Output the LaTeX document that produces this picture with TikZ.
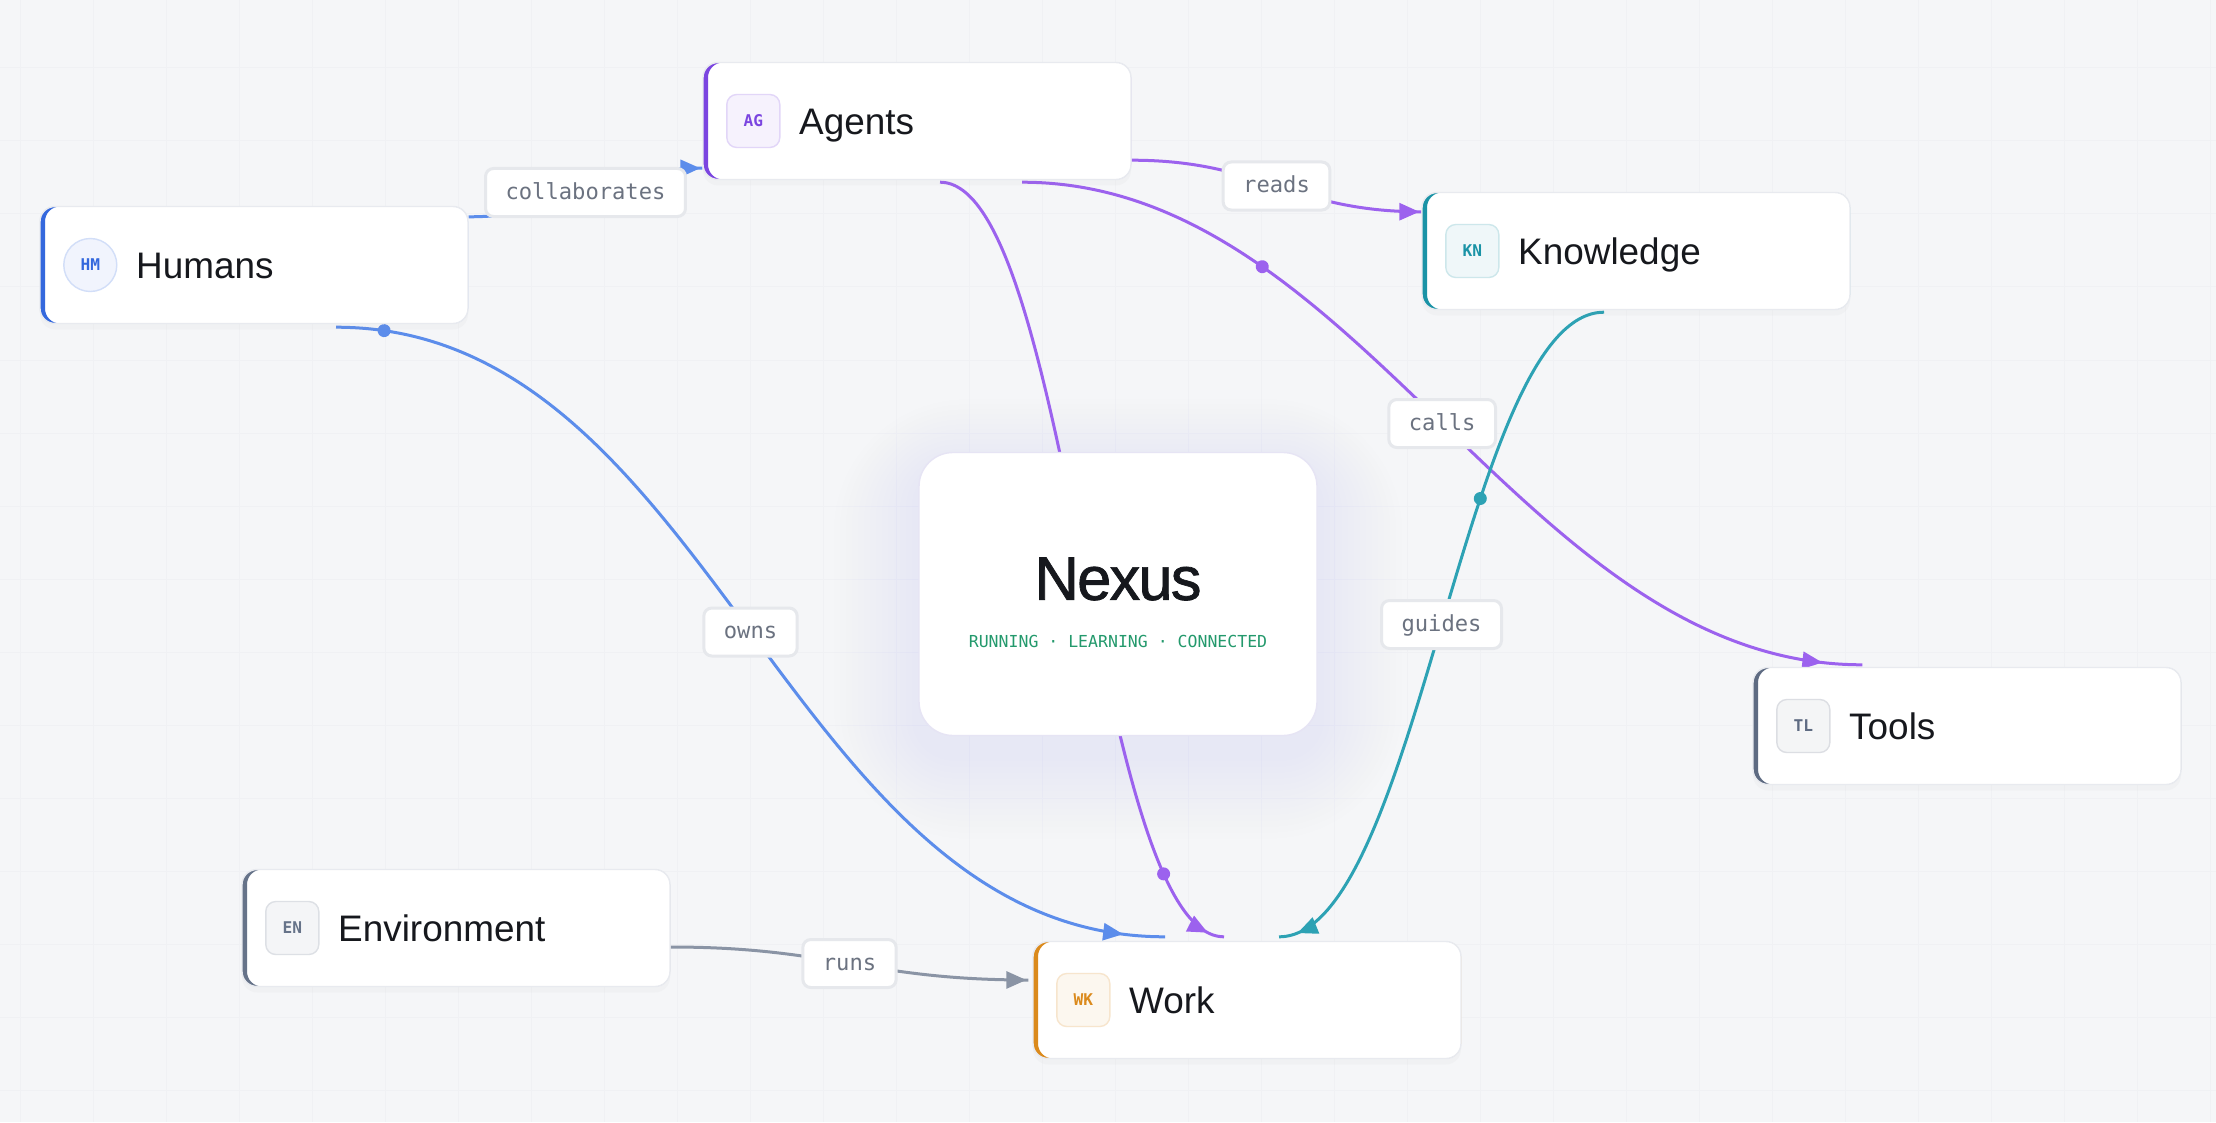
\documentclass[tikz,border=0pt]{standalone}
\usepackage{fontspec}
\setmainfont{Liberation Sans}
\newfontfamily\codefont{DejaVu Sans Mono}
\newfontfamily\titlefont[LetterSpace=-3,FakeBold=1.2]{Liberation Sans}
\usetikzlibrary{positioning,calc,arrows.meta,decorations.markings,shadows}
\pgfdeclarelayer{bg}
\pgfdeclarelayer{edges}
\pgfsetlayers{bg,edges,main}

\definecolor{bgc}{HTML}{F5F6F8}
\definecolor{gridc}{HTML}{F0F1F4}
\definecolor{cardline}{HTML}{E8EAEF}
\definecolor{hubline}{HTML}{E6E4F4}
\definecolor{inkc}{HTML}{16181D}
\definecolor{humc}{HTML}{3468DD}
\definecolor{humedge}{HTML}{5C8DEB}
\definecolor{agtc}{HTML}{7B45E0}
\definecolor{agtedge}{HTML}{9C62EE}
\definecolor{knoc}{HTML}{1A93A6}
\definecolor{knoedge}{HTML}{2DA2B4}
\definecolor{tolc}{HTML}{5E6B82}
\definecolor{envc}{HTML}{667389}
\definecolor{envedge}{HTML}{8A94A5}
\definecolor{wrkc}{HTML}{DB8A1C}
\definecolor{lblc}{HTML}{6B7280}
\definecolor{lblline}{HTML}{E6E8EC}
\definecolor{tagc}{HTML}{23996C}
\definecolor{glowc}{HTML}{C9C2F5}

\begin{document}
\begin{tikzpicture}[x=0.1mm,y=-0.1mm,
    card/.style={draw=cardline,fill=white,rounded corners=1.5mm,
      minimum width=42.8mm,minimum height=11.7mm,
      drop shadow={shadow xshift=0mm,shadow yshift=-0.6mm,opacity=0.035},
      path picture={\fill[#1,even odd rule,rounded corners=1.5mm]
        (path picture bounding box.south west) rectangle (path picture bounding box.north east)
        ([xshift=0.5mm]path picture bounding box.south west)
        rectangle ([xshift=0.5mm]path picture bounding box.north east);}},
    badge/.style={draw=#1!22,fill=#1!7,text=#1,rounded corners=1mm,
      minimum size=5.3mm,inner sep=0pt,
      font=\codefont\bfseries\fontsize{4.6}{5}\selectfont},
    cardtext/.style={inner sep=0pt,text=inkc,text height=3.45mm,text depth=0.8mm,
      font=\fontsize{10.5}{12}\selectfont},
    hub/.style={draw=hubline,fill=white,rounded corners=3.4mm,
      minimum width=39.8mm,minimum height=28.3mm},
    lbl/.style={midway,draw=lblline,fill=white,rounded corners=0.8mm,
      inner xsep=2mm,inner ysep=0pt,minimum height=4.8mm,
      text height=1.8mm,text depth=0.5mm,text=lblc,
      font=\codefont\fontsize{6.3}{7}\selectfont},
    wire/.style={color=#1,line width=0.3mm},
    tipat/.style={postaction={decorate,decoration={markings,
      mark=at position #1 with {\arrow{Triangle[length=2mm,width=1.7mm]}}}}},
    dotat/.style={postaction={decorate,decoration={markings,
      mark=at position #1 with {\fill (0,0) circle (0.65mm);}}}}]

  \useasboundingbox (0,0) rectangle (2216,1122);

  % cards
  \node[card=humc] (hum) at (254,265) {};
  \node[badge=humc,circle] (humb) at ([xshift=5.1mm]hum.west) {HM};
  \node[cardtext,right=1.8mm of humb] (humt) {Humans};

  \node[card=agtc] (agt) at (917,121) {};
  \node[badge=agtc] (agtb) at ([xshift=5.1mm]agt.west) {AG};
  \node[cardtext,right=1.8mm of agtb] (agtt) {Agents};

  \node[card=knoc] (kno) at (1636,251) {};
  \node[badge=knoc] (knob) at ([xshift=5.1mm]kno.west) {KN};
  \node[cardtext,right=1.8mm of knob] (knot) {Knowledge};

  \node[card=tolc] (tol) at (1967,726) {};
  \node[badge=tolc] (tolb) at ([xshift=5.1mm]tol.west) {TL};
  \node[cardtext,right=1.8mm of tolb] (tolt) {Tools};

  \node[card=envc] (env) at (456,928) {};
  \node[badge=envc] (envb) at ([xshift=5.1mm]env.west) {EN};
  \node[cardtext,right=1.8mm of envb] (envt) {Environment};

  \node[card=wrkc] (wrk) at (1247,1000) {};
  \node[badge=wrkc] (wrkb) at ([xshift=5.1mm]wrk.west) {WK};
  \node[cardtext,right=1.8mm of wrkb] (wrkt) {Work};

  % hub
  \node[hub] (nx) at (1118,594) {};
  \node[inner sep=0pt,text=inkc,font=\titlefont\fontsize{17.5}{20}\selectfont]
    (nxt) at ($(nx.center)+(0,-15)$) {Nexus};
  \node[inner sep=0pt,text=tagc,font=\codefont\fontsize{4.7}{6}\selectfont]
    (nxs) at ($(nx.center)+(0,47)$) {RUNNING · LEARNING · CONNECTED};

  % background, grid, glow
  \begin{pgfonlayer}{bg}
    \fill[bgc] (0,0) rectangle (2216,1122);
    \draw[gridc,line width=0.1mm,step=7.3mm,shift={(20,68)}] (-20,-68) grid (2196,1054);
    \foreach \g [evaluate=\g as \rr using 3.4+0.7*\g] in {1,...,14}
      \fill[glowc,opacity=0.017,rounded corners=\rr mm]
        ($(nx.north west)+(-\g*6,-\g*5+18)$) rectangle ($(nx.south east)+(\g*6,\g*6+18)$);
  \end{pgfonlayer}

  % connectors
  \begin{pgfonlayer}{edges}
    \draw[wire=humedge,tipat=-0.2mm] ($(hum.north east)+(0,11)$)
      .. controls +(105,0) and +(-105,0) .. ($(agt.south west)+(0,-12)$)
      node[lbl] (lcol) {collaborates};
    \draw[wire=agtedge,tipat=-0.2mm] ($(agt.south east)+(0,-20)$)
      .. controls +(130,0) and +(-130,0) .. ($(kno.north west)+(0,20)$)
      node[lbl] (lrea) {reads};
    \draw[wire=agtedge,dotat=0.26,tipat=-4mm] ($(agt.south)+(105,2)$)
      .. controls +(340,0) and +(-340,0) .. ($(tol.north west)+(110,-2)$)
      node[lbl] (lcal) {calls};
    \draw[wire=agtedge,dotat=0.89,tipat=-1.7mm] ($(agt.south)+(23,2)$)
      .. controls +(130,0) and +(-130,0) .. ($(wrk.north)+(-23,-4)$);
    \draw[wire=knoedge,dotat=0.32,tipat=-1.9mm] ($(kno.south)+(-32,2)$)
      .. controls +(-140,0) and +(140,0) .. ($(wrk.north)+(32,-4)$)
      node[lbl] (lgui) {guides};
    \draw[wire=humedge,dotat=0.045,tipat=-4.2mm] ($(hum.south)+(82,3)$)
      .. controls +(378,0) and +(-378,0) .. ($(wrk.north)+(-82,-4)$)
      node[lbl] (lown) {owns};
    \draw[wire=envedge,tipat=-0.2mm] ($(env.east)+(0,19)$)
      .. controls +(160,0) and +(-160,0) .. ($(wrk.west)+(-4,-20)$)
      node[lbl] (lrun) {runs};
  \end{pgfonlayer}
\end{tikzpicture}
\end{document}
